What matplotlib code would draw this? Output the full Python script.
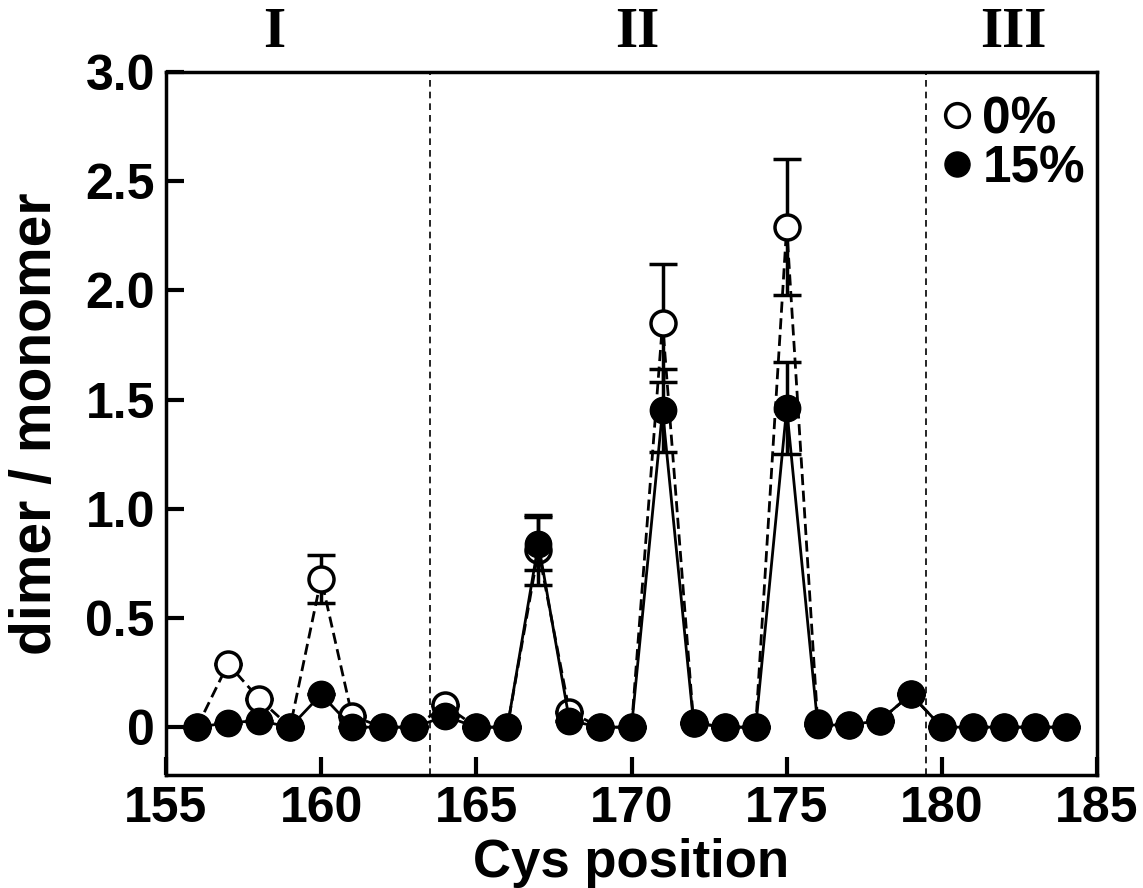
import numpy as np
import matplotlib
matplotlib.use("Agg")
import matplotlib.pyplot as plt

# Cys positions
pos = np.arange(156, 185)

# 0% (open circles)
y0 = [0.00, 0.29, 0.13, 0.00, 0.68, 0.05, 0.00, 0.00, 0.10, 0.00,
      0.00, 0.81, 0.07, 0.00, 0.00, 1.85, 0.02, 0.00, 0.00, 2.29,
      0.02, 0.01, 0.03, 0.15, 0.00, 0.00, 0.00, 0.00, 0.00]
e0 = [0.00, 0.00, 0.00, 0.00, 0.11, 0.00, 0.00, 0.00, 0.00, 0.00,
      0.00, 0.16, 0.00, 0.00, 0.00, 0.27, 0.00, 0.00, 0.00, 0.31,
      0.00, 0.00, 0.00, 0.00, 0.00, 0.00, 0.00, 0.00, 0.00]

# 15% (filled circles)
y15 = [0.00, 0.02, 0.03, 0.00, 0.15, 0.00, 0.00, 0.00, 0.05, 0.00,
       0.00, 0.84, 0.03, 0.00, 0.00, 1.45, 0.02, 0.00, 0.00, 1.46,
       0.01, 0.01, 0.03, 0.15, 0.00, 0.00, 0.00, 0.00, 0.00]
e15 = [0.00, 0.00, 0.00, 0.00, 0.00, 0.00, 0.00, 0.00, 0.00, 0.00,
       0.00, 0.12, 0.00, 0.00, 0.00, 0.19, 0.00, 0.00, 0.00, 0.21,
       0.00, 0.00, 0.00, 0.00, 0.00, 0.00, 0.00, 0.00, 0.00]

regions = ["I", "II", "III"]
region_x = [158.5, 170.2, 182.3]
borders = [163.5, 179.5]

plt.rcParams['font.family'] = ['Liberation Sans', 'DejaVu Sans']
plt.rcParams['font.weight'] = 'bold'

fig = plt.figure(figsize=(11.43, 8.88), dpi=100)
ax = fig.add_axes([0.1452, 0.127, 0.8146, 0.792])

ax.errorbar(pos, y0, yerr=e0, fmt='o', ls=(0, (4, 2)), color='black', lw=2,
            mfc='white', mec='black', mew=2.5, ms=18, capsize=10, capthick=2.5,
            elinewidth=2.5, zorder=3, label='0%')
ax.errorbar(pos, y15, yerr=e15, fmt='o', ls='-', color='black', lw=2,
            mfc='black', mec='black', ms=19, capsize=10, capthick=2.5,
            elinewidth=2.5, zorder=4, label='15%')

for b in borders:
    ax.axvline(b, color='black', ls=(0, (4, 3)), lw=1.2, zorder=1)

for r, xr in zip(regions, region_x):
    ax.text(xr, 3.06, r, ha='center', va='bottom', fontsize=41,
            family='Liberation Serif', fontweight='bold', clip_on=False)

ax.set_xlim(155, 185)
ax.set_ylim(-0.22, 3.0)
ax.set_xticks([155, 160, 165, 170, 175, 180, 185])
ax.set_yticks([0, 0.5, 1.0, 1.5, 2.0, 2.5, 3.0])
ax.set_yticklabels(['0', '0.5', '1.0', '1.5', '2.0', '2.5', '3.0'])
ax.tick_params(direction='in', length=13, width=3, labelsize=36, pad=8)
for s in ax.spines.values():
    s.set_linewidth(2.5)

ax.set_xlabel('Cys position', fontsize=38, fontweight='bold', labelpad=4)
ax.set_ylabel('dimer / monomer', fontsize=41, fontweight='bold', labelpad=16)

h, l = ax.get_legend_handles_labels()
leg = ax.legend([hh[0] for hh in h], l, loc='upper right', frameon=False,
                fontsize=37, handlelength=0.4, handletextpad=0.3,
                labelspacing=0.0, borderaxespad=0.05, markerscale=0.95,
                bbox_to_anchor=(1.012, 1.0))

fig.savefig('out.png', dpi=100)
